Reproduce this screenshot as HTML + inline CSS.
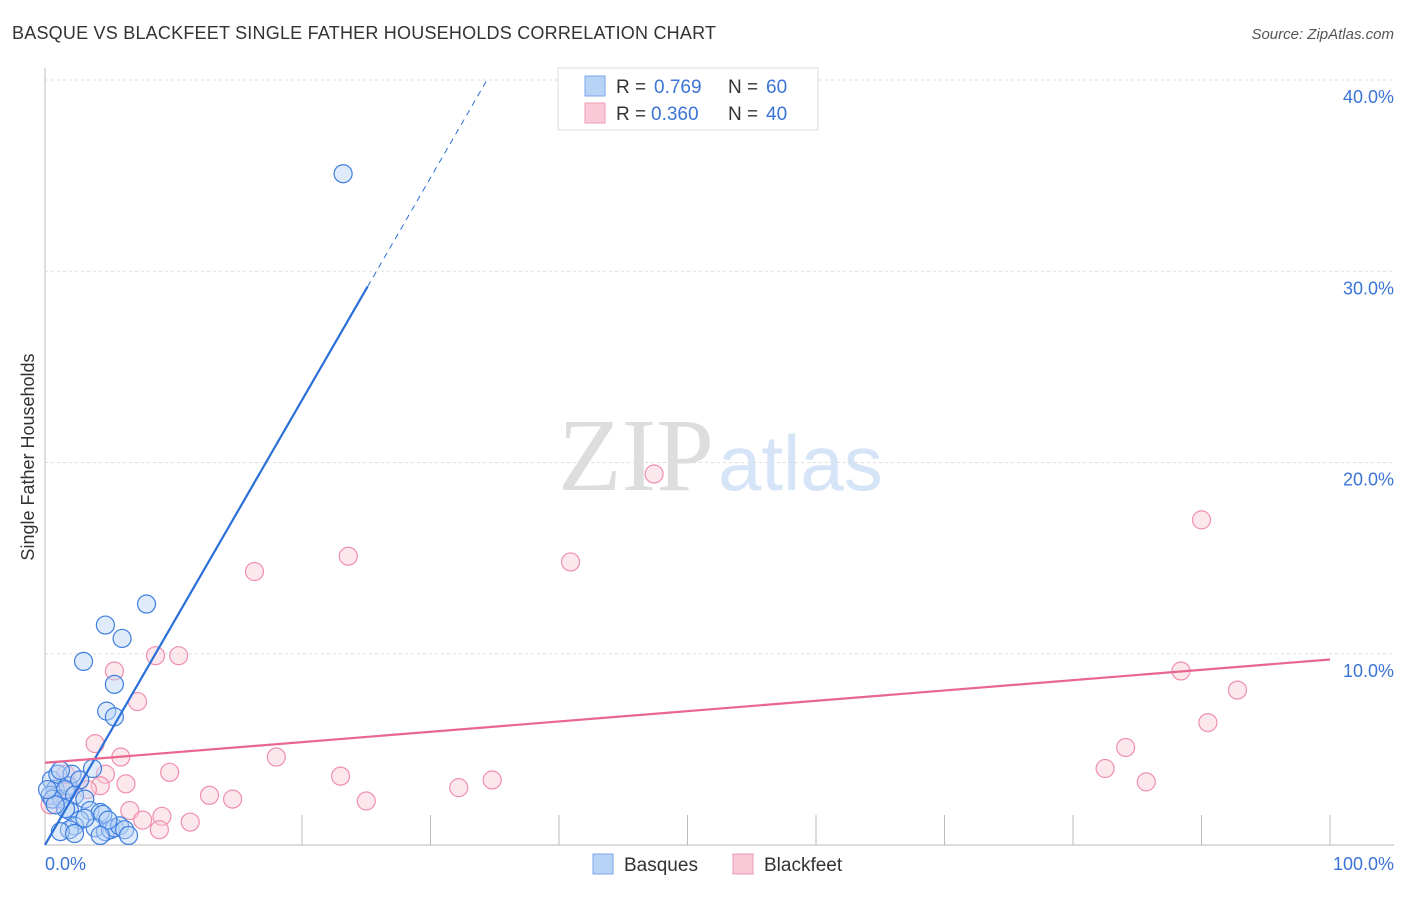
<!DOCTYPE html>
<html><head><meta charset="utf-8"><style>
body{margin:0;background:#fff;font-family:"Liberation Sans",sans-serif;}
</style></head><body>
<svg width="1406" height="892" xmlns="http://www.w3.org/2000/svg">
<text x="12" y="39" font-size="18" fill="#333" textLength="704">BASQUE VS BLACKFEET SINGLE FATHER HOUSEHOLDS CORRELATION CHART</text>
<text x="1394" y="39" font-size="15" fill="#555" font-style="italic" text-anchor="end">Source: ZipAtlas.com</text>
<text x="714" y="490" font-size="104" fill="#ddd" text-anchor="end" font-family="Liberation Serif">ZIP</text>
<text x="718" y="490" font-size="78" fill="#d6e4f7">atlas</text>
<g id="grid"></g>
<g id="marks"></g>
<text transform="translate(34,457) rotate(-90)" font-size="18" fill="#333" text-anchor="middle">Single Father Households</text>
<text x="45" y="870" font-size="18" fill="#3b74d6">0.0%</text>
<text x="1394" y="870" font-size="18" fill="#3b74d6" text-anchor="end">100.0%</text>
<g>
<rect x="558" y="68" width="260" height="62" fill="#fff" stroke="#ddd"/>
<rect x="585" y="76" width="20" height="20" fill="#b9d3f7" stroke="#7aa6e8"/>
<text x="616" y="93" font-size="19" fill="#333">R =</text>
<text x="654" y="93" font-size="19" fill="#3b74d6">0.769</text>
<text x="728" y="93" font-size="19" fill="#333">N =</text>
<text x="766" y="93" font-size="19" fill="#3b74d6">60</text>
<rect x="585" y="103" width="20" height="20" fill="#f9c9d7" stroke="#ef9ab4"/>
<text x="616" y="120" font-size="19" fill="#333">R =</text>
<text x="651" y="120" font-size="19" fill="#3b74d6">0.360</text>
<text x="728" y="120" font-size="19" fill="#333">N =</text>
<text x="766" y="120" font-size="19" fill="#3b74d6">40</text>
</g>
<g>
<rect x="593" y="854" width="20" height="20" fill="#b9d3f7" stroke="#7aa6e8"/>
<text x="624" y="871" font-size="19" fill="#333">Basques</text>
<rect x="733" y="854" width="20" height="20" fill="#f9c9d7" stroke="#ef9ab4"/>
<text x="764" y="871" font-size="19" fill="#333">Blackfeet</text>
</g>
</svg>
<script>
const yTicks=[10,20,30,40];
const xTicks=[20,30,40,50,60,70,80,90,100];
const basqueX=[23.2,7.9,4.7,6.0,3.0,5.4,4.8,5.4,3.7,0.5,0.8,0.4,1.0,1.3,1.8,2.1,1.6,2.7,0.6,1.2,2.3,3.1,1.9,3.5,4.3,4.5,2.7,2.3,1.9,1.2,2.3,3.9,4.7,5.1,5.4,5.8,6.2,6.5,4.9,3.1,4.3,1.6,0.8,0.2];
const basqueY=[35.1,12.6,11.5,10.8,9.6,8.4,7.0,6.7,4.0,3.4,2.9,2.6,3.7,2.4,3.1,3.7,2.9,3.4,2.4,3.9,2.6,2.4,1.8,1.8,1.7,1.6,1.3,1.0,0.8,0.7,0.6,0.9,0.7,0.8,0.9,1.0,0.8,0.5,1.3,1.4,0.5,1.9,2.1,2.9];
const blackfeetX=[47.4,90.0,23.6,40.9,16.3,8.6,10.4,5.4,88.4,92.8,7.2,90.5,3.9,84.1,5.9,18.0,82.5,9.7,23.0,4.7,34.8,85.7,6.3,4.3,32.2,12.8,14.6,25.0,6.6,9.1,7.6,11.3,8.9,0.8,1.2,1.9,2.7,0.4,3.3,1.6];
const blackfeetY=[19.4,17.0,15.1,14.8,14.3,9.9,9.9,9.1,9.1,8.1,7.5,6.4,5.3,5.1,4.6,4.6,4.0,3.8,3.6,3.7,3.4,3.3,3.2,3.1,3.0,2.6,2.4,2.3,1.8,1.5,1.3,1.2,0.8,2.6,3.1,2.9,3.4,2.1,2.9,3.7];
const basqueTrend=[0,1.163];
const blackfeetTrend=[4.3,0.054];
const NS="http://www.w3.org/2000/svg";
const X0=45,X1=1330,Y0=845,Y40=80;
const sx=v=>X0+(X1-X0)*v/100;
const sy=v=>Y0-(Y0-Y40)*v/40;
function mk(tag,attrs,parent){const e=document.createElementNS(NS,tag);for(const k in attrs)e.setAttribute(k,attrs[k]);parent.appendChild(e);return e;}
const grid=document.getElementById('grid'),marks=document.getElementById('marks');
let ax=mk('line',{x1:X0,y1:68,x2:X0,y2:Y0,stroke:'#bbb'},grid);


let bx=mk('line',{x1:X0,y1:Y0,x2:1394,y2:Y0,stroke:'#bbb'},grid);


yTicks.forEach(t=>{
 let l=mk('line',{x1:X0,y1:sy(t),x2:1394,y2:sy(t),stroke:'#ddd','stroke-dasharray':'3,3'},grid);
 
 
 let tx=mk('text',{x:1394,y:sy(t)+23,'font-size':18,fill:'#3b74d6','text-anchor':'end'},grid);
 tx.textContent=t.toFixed(1)+'%';
 
 
});
xTicks.forEach(t=>{
 let l=mk('line',{x1:sx(t),y1:Y0-30,x2:sx(t),y2:Y0,stroke:'#bbb'},grid);
 
 
});
function pts(xs,ys,fill,stroke,name){xs.forEach((v,i)=>{
 let c=mk('circle',{cx:sx(v),cy:sy(ys[i]),r:9,fill:fill,'fill-opacity':0.45,stroke:stroke,'stroke-width':1.2},marks);
 
 
});}
pts(blackfeetX,blackfeetY,'#f9c9d7','#ef8fae','blackfeet-point');
pts(basqueX,basqueY,'#b9d3f7','#3f7fe0','basque-point');
const bf=x=>basqueTrend[0]+basqueTrend[1]*x;
const xs=25.1, xe=(40-basqueTrend[0])/basqueTrend[1];
let l1=mk('line',{x1:sx(0),y1:sy(bf(0)),x2:sx(xs),y2:sy(bf(xs)),stroke:'#2a6fd8','stroke-width':2.2},marks);


let l2=mk('line',{x1:sx(xs),y1:sy(bf(xs)),x2:sx(xe),y2:sy(40),stroke:'#2a6fd8','stroke-width':1,'stroke-dasharray':'6,5'},marks);


const kf=x=>blackfeetTrend[0]+blackfeetTrend[1]*x;
let l3=mk('line',{x1:sx(0),y1:sy(kf(0)),x2:sx(100),y2:sy(kf(100)),stroke:'#e8668f','stroke-width':2.2},marks);


</script>
</body></html>
